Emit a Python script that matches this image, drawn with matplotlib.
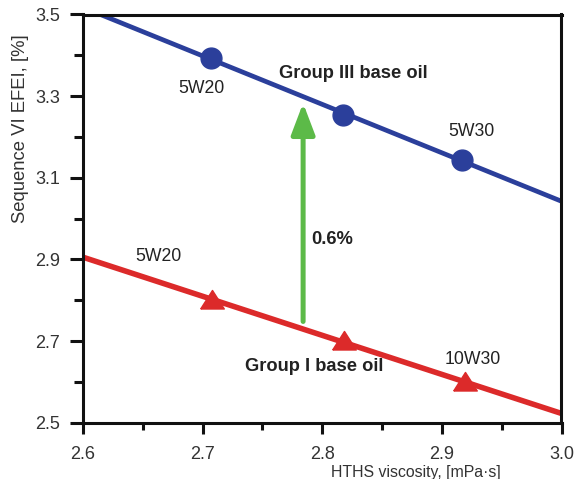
import numpy as np
import matplotlib
matplotlib.use("Agg")
import matplotlib.pyplot as plt
from matplotlib.ticker import MultipleLocator

plt.rcParams['font.family'] = ['Liberation Sans', 'DejaVu Sans']

# ---- data ----
visc_g3 = [2.707, 2.817, 2.917]
efei_g3 = [3.393, 3.254, 3.144]
visc_g1 = [2.708, 2.818, 2.919]
efei_g1 = [2.801, 2.699, 2.599]

grade_labels_g3 = ["5W20", "5W30"]
grade_pos_g3 = [(2.699, 3.319), (2.925, 3.213)]
grade_labels_g1 = ["5W20", "10W30"]
grade_pos_g1 = [(2.663, 2.907), (2.926, 2.654)]

arrow_x = 2.784
arrow_from = 2.748
arrow_to = 3.283

xticks = [2.6, 2.7, 2.8, 2.9, 3.0]
yticks = [2.5, 2.7, 2.9, 3.1, 3.3, 3.5]

BLUE = "#2b3f9b"
RED = "#dc2a2a"
GREEN = "#5cba48"

fig = plt.figure(figsize=(5.81, 4.79), dpi=100)
ax = fig.add_axes([83/581, 1-422.7/479, (561.5-83)/581, (422.7-14.5)/479])

xfit = np.array([2.6, 3.0])
p3 = np.polyfit(visc_g3, efei_g3, 1)
p1 = np.polyfit(visc_g1, efei_g1, 1)
ax.plot(xfit, np.polyval(p3, xfit), color=BLUE, lw=3.4, solid_capstyle='butt', zorder=2)
ax.plot(xfit, np.polyval(p1, xfit), color=RED, lw=4.0, solid_capstyle='butt', zorder=2)

ax.plot(visc_g3, efei_g3, 'o', color=BLUE, ms=15, mec=BLUE, zorder=3)
tri = [(-1, -0.72), (1, -0.72), (0, 0.85), (-1, -0.72)]
ax.plot(visc_g1, efei_g1, linestyle='none', marker=tri, color=RED, ms=17, mec=RED, zorder=3)

ax.annotate('', xy=(arrow_x, arrow_to), xytext=(arrow_x, arrow_from),
            arrowprops=dict(arrowstyle='-|>,head_length=1.9,head_width=0.72',
                            lw=3.6, color=GREEN, shrinkA=0, shrinkB=0),
            zorder=4)

for lab, (x, y) in zip(grade_labels_g3, grade_pos_g3):
    ax.text(x, y, lab, ha='center', va='center', fontsize=12.7, color='#222222')
for lab, (x, y) in zip(grade_labels_g1, grade_pos_g1):
    ax.text(x, y, lab, ha='center', va='center', fontsize=12.7, color='#222222')

ax.text(2.826, 3.356, "Group III base oil", ha='center', va='center',
        fontsize=13.2, fontweight='bold', color='#222222')
ax.text(2.793, 2.638, "Group I base oil", ha='center', va='center',
        fontsize=13.2, fontweight='bold', color='#222222')
ax.text(2.7906, 2.95, "0.6%", ha='left', va='center',
        fontsize=13.2, fontweight='bold', color='#222222')

ax.set_xlim(2.6, 3.0)
ax.set_ylim(2.5, 3.5)
ax.set_xticks(xticks)
ax.set_yticks(yticks)
ax.set_xticklabels([f"{v:.1f}" for v in xticks])
ax.set_yticklabels([f"{v:.1f}" for v in yticks])
ax.xaxis.set_minor_locator(MultipleLocator(0.05))
ax.yaxis.set_minor_locator(MultipleLocator(0.1))

ax.tick_params(axis='both', which='both', direction='out', width=2.2,
               colors='#111111', labelsize=13, labelcolor='#333333')
ax.tick_params(axis='y', which='major', length=9.5, pad=7)
ax.tick_params(axis='y', which='minor', length=6.5)
ax.tick_params(axis='x', which='major', length=7.6, pad=9.5)
ax.tick_params(axis='x', which='minor', length=5.2)
for s in ax.spines.values():
    s.set_linewidth(2.2)
    s.set_color('#111111')

fig.text(21/581, 1-129/479, "Sequence VI EFEI, [%]", rotation=90,
         ha='center', va='center', fontsize=13.3, color='#333333')
fig.text(416/581, 1-472.5/479, "HTHS viscosity, [mPa·s]",
         ha='center', va='center', fontsize=11.4, color='#333333')

fig.savefig("out.png", dpi=100)
